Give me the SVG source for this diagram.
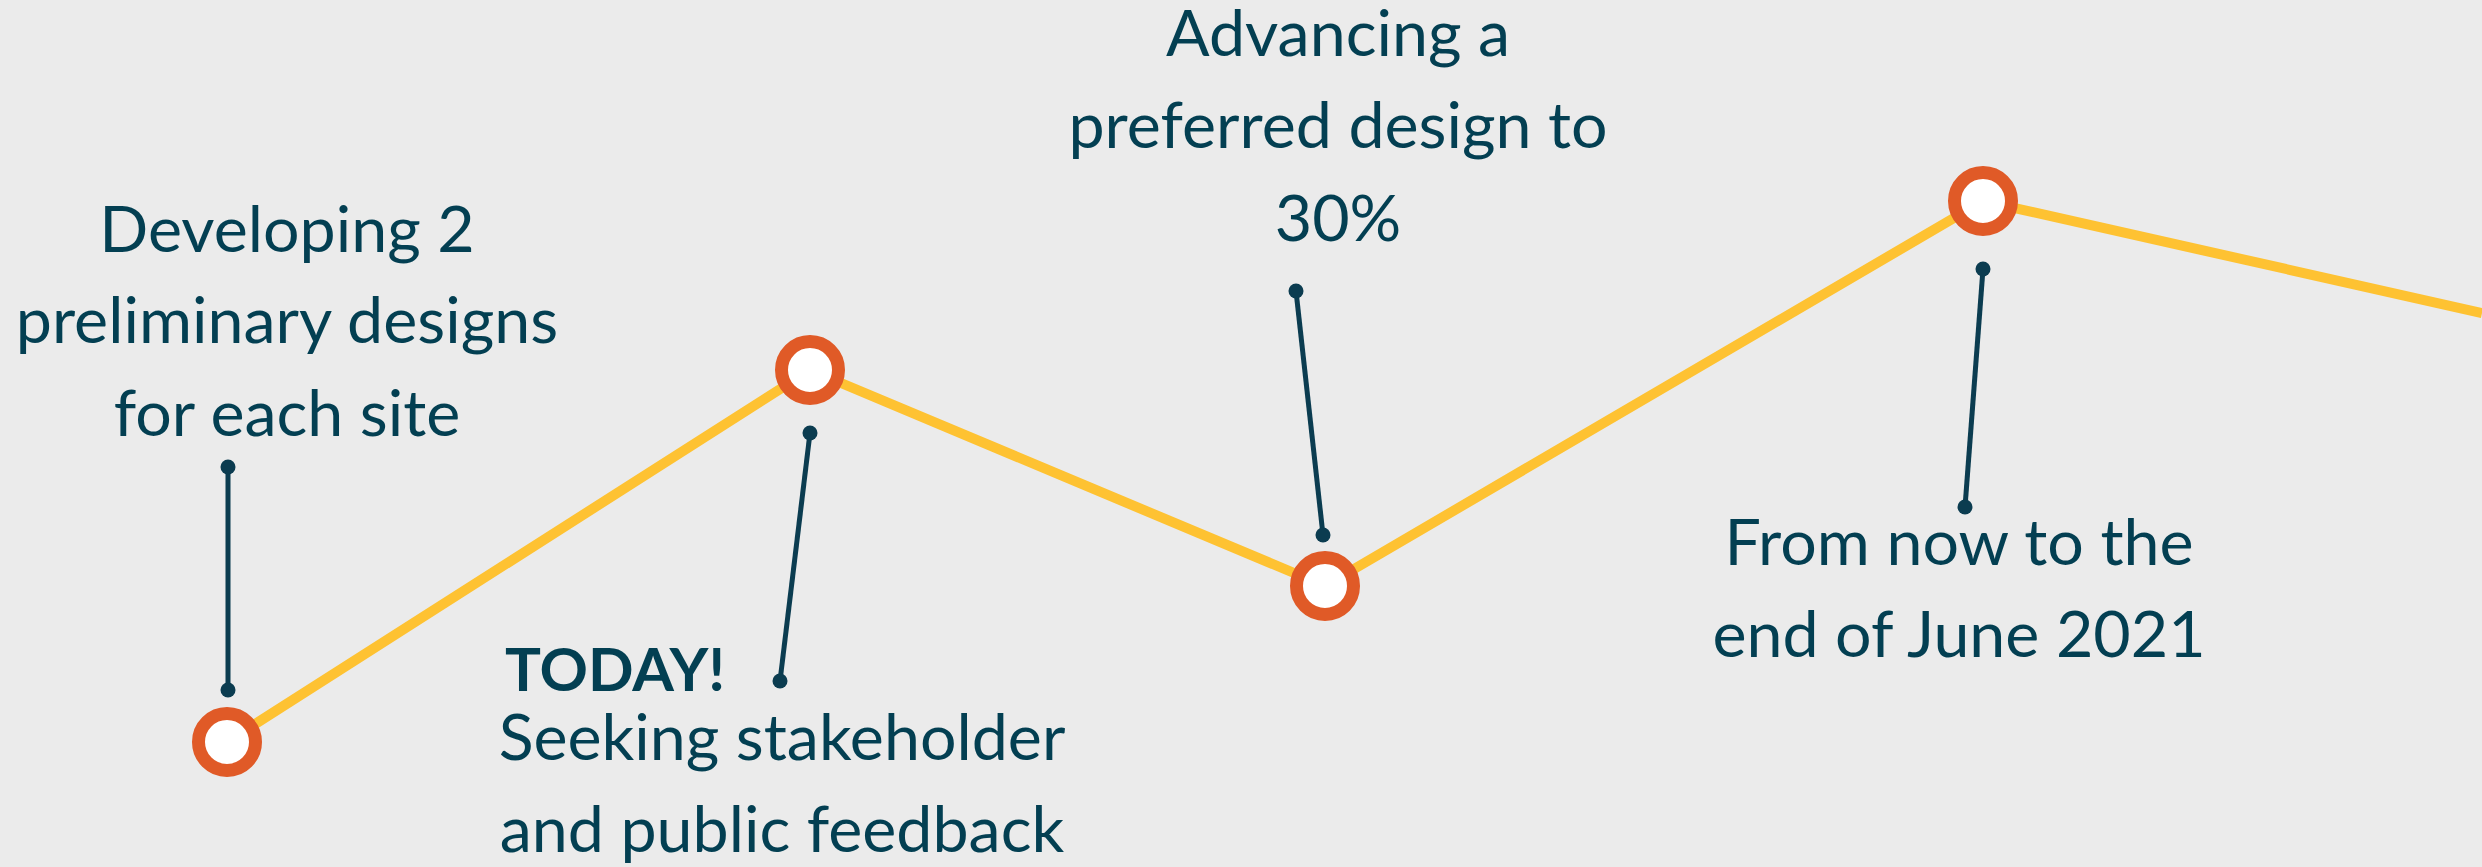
<svg xmlns="http://www.w3.org/2000/svg" width="2482" height="867" viewBox="0 0 2482 867">
<style>
.t{font-family:Lato,"Open Sans","Liberation Sans",sans-serif;font-size:64.5px;fill:#033F52;}
.c{text-anchor:middle;}
.b{font-weight:bold;font-size:60px;}
.lead{stroke:#0B3C50;stroke-width:5;fill:none;}
.dot{fill:#0B3C50;}
.ms{fill:#FFFFFF;stroke:#E05A27;stroke-width:13;}
</style>
<rect x="0" y="0" width="2482" height="867" fill="#EBEBEB"/>
<g id="connectors">
<polyline points="227,742 810,370 1325,586 1983,201 2482,313" fill="none" stroke="#FEC232" stroke-width="10" stroke-linejoin="miter"/>
<line class="lead" x1="228" y1="467" x2="228" y2="690"/>
<circle class="dot" cx="228" cy="467" r="7.5"/>
<circle class="dot" cx="228" cy="690" r="7.5"/>
<line class="lead" x1="810" y1="433" x2="780" y2="681"/>
<circle class="dot" cx="810" cy="433" r="7.5"/>
<circle class="dot" cx="780" cy="681" r="7.5"/>
<line class="lead" x1="1296" y1="291" x2="1323" y2="535"/>
<circle class="dot" cx="1296" cy="291" r="7.5"/>
<circle class="dot" cx="1323" cy="535" r="7.5"/>
<line class="lead" x1="1983" y1="269" x2="1965" y2="507"/>
<circle class="dot" cx="1983" cy="269" r="7.5"/>
<circle class="dot" cx="1965" cy="507" r="7.5"/>
</g>
<g id="node1">
<circle class="ms" cx="227" cy="742" r="28.5"/>
<text class="t c" x="287" y="252">Developing 2</text>
<text class="t c" x="287" y="343">preliminary designs</text>
<text class="t c" x="287" y="436">for each site</text>
</g>
<g id="node2">
<circle class="ms" cx="810" cy="370" r="28.5"/>
<text class="t b" x="505" y="691">TODAY!</text>
<text class="t c" x="782" y="760">Seeking stakeholder</text>
<text class="t c" x="782" y="852">and public feedback</text>
</g>
<g id="node3">
<circle class="ms" cx="1325" cy="586" r="28.5"/>
<text class="t c" x="1338" y="56">Advancing a</text>
<text class="t c" x="1338" y="148">preferred design to</text>
<text class="t c" x="1338" y="241">30%</text>
</g>
<g id="node4">
<circle class="ms" cx="1983" cy="201" r="28.5"/>
<text class="t c" x="1959" y="565">From now to the</text>
<text class="t c" x="1959" y="657">end of June 2021</text>
</g>
</svg>
